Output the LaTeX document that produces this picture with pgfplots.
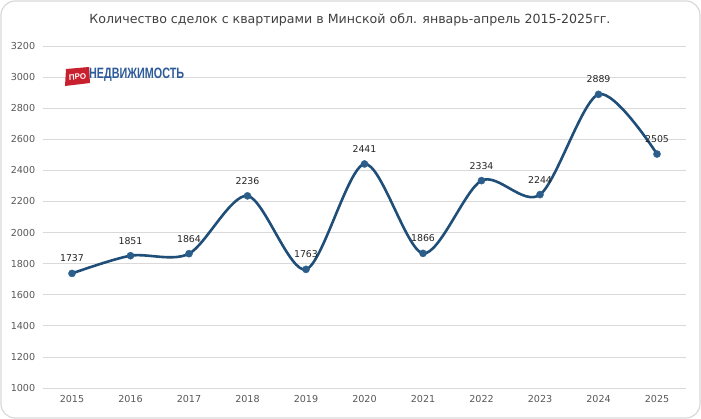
\documentclass[border=0pt]{standalone}
\usepackage{pgfplots}
\pgfplotsset{compat=1.18}
\usepackage{fontspec}
\setmainfont{DejaVu Sans}
\newfontfamily\logofont{Liberation Sans}
\definecolor{lineblue}{HTML}{1F4E79}
\definecolor{markblue}{HTML}{2C5E8C}
\definecolor{gridgray}{HTML}{D9D9D9}
\definecolor{txtgray}{HTML}{595959}
\definecolor{titlegray}{HTML}{404040}
\definecolor{logored}{HTML}{C8202F}
\definecolor{logoblue}{HTML}{2E5C9A}
\begin{document}
\begin{tikzpicture}[x=1pt,y=1pt]
\useasboundingbox (0,0) rectangle (701,419);
\draw[gridgray, line width=1.2pt, rounded corners=14pt, fill=white] (1,1) rectangle (700,418);
\node[font=\fontsize{12.6}{14}\selectfont, text=titlegray] at (350,399) {Количество сделок с квартирами в Минской обл. январь-апрель 2015-2025гг.};
\begin{axis}[
  at={(42.75pt,31pt)}, anchor=south west,
  scale only axis, width=643.5pt, height=342pt,
  xmin=-0.5, xmax=10.5, ymin=1000, ymax=3200,
  xtick={0,...,10},
  xticklabels={2015,2016,2017,2018,2019,2020,2021,2022,2023,2024,2025},
  ytick={1000,1200,...,3200},
  ymajorgrids, grid style={gridgray, line width=0.8pt},
  axis line style={draw=none},
  major tick length=0pt,
  tick label style={font=\fontsize{9.6}{11}\selectfont, text=txtgray},
  yticklabel style={/pgf/number format/set thousands separator={}},
  /pgf/number format/assume math mode=true,
  xticklabel style={yshift=-4pt},
  yticklabel style={xshift=-4pt},
  clip=false,
]
\addplot[lineblue, line width=2.6pt, smooth, tension=0.5,
  mark=*, mark size=3.6pt, mark options={solid, fill=markblue, draw=markblue, line width=0.3pt},
  nodes near coords, every node near coord/.style={font=\fontsize{9.4}{11}\selectfont, text=black!85, yshift=8pt},
  point meta=explicit symbolic]
  coordinates {(0,1737)[1737] (1,1851)[1851] (2,1864)[1864] (3,2236)[2236] (4,1763)[1763] (5,2441)[2441] (6,1866)[1866] (7,2334)[2334] (8,2244)[2244] (9,2889)[2889] (10,2505)[2505]};
\end{axis}
\fill[logored] (65,333) -- (90,336) -- (89,352) -- (66,350) -- cycle;
\node[text=white, font=\logofont\bfseries\fontsize{8}{8}\selectfont, rotate=4] at (77.5,342) {ПРО};
\node[anchor=west, text=logoblue, font=\logofont\bfseries\fontsize{15}{15}\selectfont, xscale=0.72, inner sep=0pt] at (89,344) {НЕДВИЖИМОСТЬ};
\end{tikzpicture}
\end{document}
